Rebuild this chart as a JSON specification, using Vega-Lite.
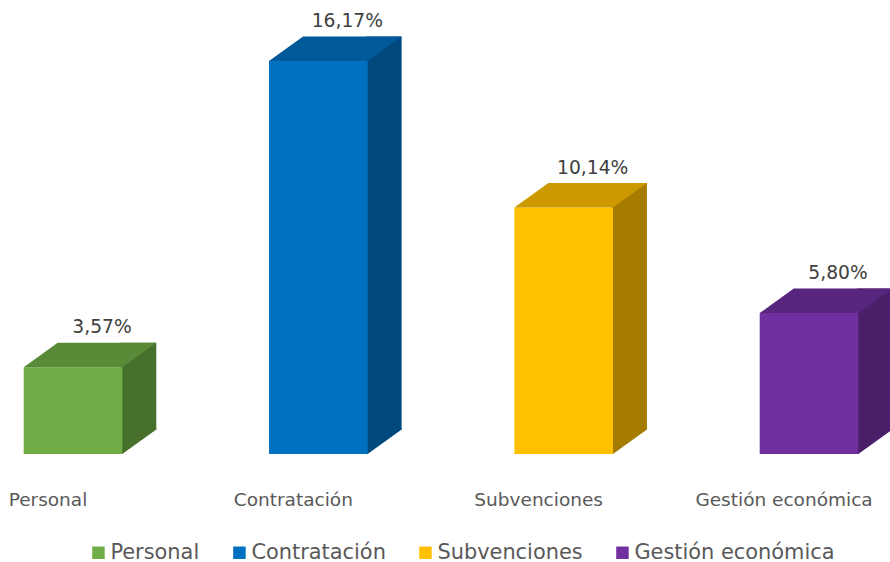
{
  "$schema": "https://vega.github.io/schema/vega-lite/v6.json",
  "width": 832,
  "height": 454,
  "autosize": {"type": "none"},
  "padding": {"left": 0, "top": 0, "right": 58, "bottom": 108},
  "background": "white",
  "config": {
    "view": {"stroke": null},
    "font": "DejaVu Sans",
    "locale": {
      "number": {"decimal": ",", "thousands": ".", "grouping": [3], "currency": ["", " €"]}
    }
  },
  "data": {
    "values": [
      {"categoria": "Personal", "valor": 0.0357},
      {"categoria": "Contratación", "valor": 0.1617},
      {"categoria": "Subvenciones", "valor": 0.1014},
      {"categoria": "Gestión económica", "valor": 0.058}
    ]
  },
  "encoding": {
    "x": {
      "field": "categoria",
      "type": "nominal",
      "sort": null,
      "scale": {"paddingInner": 0.6088, "paddingOuter": 0},
      "axis": {
        "title": null,
        "labelAngle": 0,
        "ticks": false,
        "domain": false,
        "grid": false,
        "labelPadding": 36,
        "labelFontSize": 18.5,
        "labelColor": "#595959",
        "labelFont": "DejaVu Sans",
        "labelLimit": 0
      }
    },
    "y": {
      "field": "valor",
      "type": "quantitative",
      "scale": {"domain": [0, 0.18683], "nice": false},
      "axis": null
    }
  },
  "layer": [
    {
      "mark": {"type": "bar", "width": 35.5, "xOffset": 90.55, "yOffset": -24.5},
      "encoding": {
        "color": {
          "field": "categoria", "type": "nominal", "sort": null, "legend": null,
          "scale": {"domain": ["Personal", "Contratación", "Subvenciones", "Gestión económica"], "range": ["#48702D", "#00497E", "#A67C00", "#491F69"]}
        }
      }
    },
    {
      "mark": {"type": "point", "filled": true, "opacity": 1, "strokeWidth": 0, "size": 4, "shape": "M72.8,0L74.3,0L108.3,-24.5L108.3,-26L72.8,-26Z"},
      "encoding": {
        "y": {"datum": 0, "type": "quantitative"},
        "color": {
          "field": "categoria", "type": "nominal", "sort": null, "legend": null,
          "scale": {"domain": ["Personal", "Contratación", "Subvenciones", "Gestión económica"], "range": ["#48702D", "#00497E", "#A67C00", "#491F69"]}
        }
      }
    },
    {
      "mark": {"type": "bar", "width": 98.6, "xOffset": 25},
      "encoding": {
        "color": {
          "field": "categoria", "type": "nominal", "sort": null,
          "scale": {"domain": ["Personal", "Contratación", "Subvenciones", "Gestión económica"], "range": ["#70AD47", "#0070C0", "#FFC000", "#7030A0"]},
          "legend": {
            "orient": "none",
            "legendX": 88,
            "legendY": 542,
            "direction": "horizontal",
            "title": null,
            "padding": 0,
            "symbolType": "square",
            "symbolSize": 156,
            "symbolStrokeWidth": 0,
            "symbolOpacity": 1,
            "labelFontSize": 20.9,
            "labelFont": "DejaVu Sans",
            "labelColor": "#595959",
            "labelOffset": 1.5,
            "columnPadding": 29,
            "labelLimit": 0
          }
        }
      }
    },
    {
      "mark": {"type": "point", "filled": true, "opacity": 1, "strokeWidth": 0, "size": 4, "shape": "M-24.3,0L74.3,0L108.3,-24.5L9.7,-24.5Z"},
      "encoding": {
        "color": {
          "field": "categoria", "type": "nominal", "sort": null, "legend": null,
          "scale": {"domain": ["Personal", "Contratación", "Subvenciones", "Gestión económica"], "range": ["#598A38", "#005A9A", "#CC9A00", "#59267F"]}
        }
      }
    },
    {
      "mark": {"type": "text", "dx": 54, "dy": -34, "align": "center", "baseline": "alphabetic", "fontSize": 18.7, "font": "DejaVu Sans", "color": "#404040"},
      "encoding": {
        "text": {"field": "valor", "type": "quantitative", "format": ".2%"}
      }
    }
  ],
  "resolve": {"scale": {"color": "independent"}, "legend": {"color": "independent"}}
}
